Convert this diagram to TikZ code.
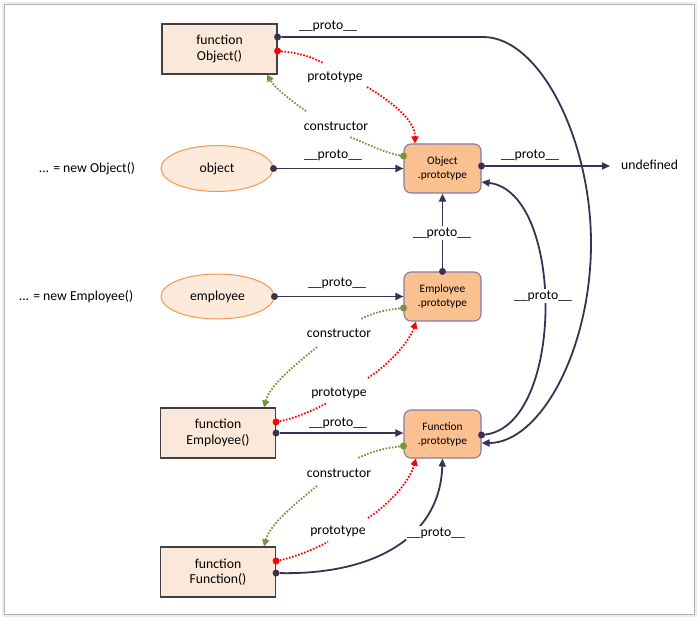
\documentclass[tikz,border=0pt]{standalone}
\usepackage{fontspec}
\setmainfont{Carlito}
\usetikzlibrary{arrows.meta,shapes.geometric,calc}
\definecolor{dk}{HTML}{3B3054}
\definecolor{fnfill}{HTML}{FCE8D9}
\definecolor{fnline}{HTML}{404040}
\definecolor{prfill}{HTML}{FAC090}
\definecolor{prline}{HTML}{8A7AA0}
\definecolor{elfill}{HTML}{FDEADA}
\definecolor{elline}{HTML}{F79646}
\definecolor{rd}{HTML}{FF0000}
\definecolor{gr}{HTML}{77933C}
\begin{document}
\begin{tikzpicture}[x=1pt,y=-1pt,
  fnbox/.style={draw=fnline,fill=fnfill,line width=1.1pt,minimum width=115pt,minimum height=50pt,align=center,font=\fontsize{13.7}{15.5}\selectfont,inner sep=0pt},
  prbox/.style={draw=prline,fill=prfill,line width=1.1pt,rounded corners=7pt,minimum width=77pt,minimum height=49pt,align=center,font=\fontsize{11.4}{14}\selectfont,inner sep=0pt},
  elnode/.style={ellipse,draw=elline,fill=elfill,line width=1pt,minimum width=112pt,minimum height=46pt,font=\fontsize{13.7}{15.5}\selectfont,inner sep=0pt},
  lbl/.style={font=\fontsize{13.7}{15.5}\selectfont,inner sep=1.5pt},
  wlbl/.style={lbl,fill=white},
  pdot/.style={circle,fill=dk,inner sep=0pt,minimum size=7pt},
  rdot/.style={circle,fill=rd,inner sep=0pt,minimum size=7pt},
  gdot/.style={circle,fill=gr,inner sep=0pt,minimum size=7pt},
  proto/.style={draw=dk,line width=1.8pt,-{Triangle[length=8pt,width=7pt]}},
  protoplain/.style={draw=dk,line width=1.8pt},
  redlink/.style={draw=rd,line width=1.8pt,dash pattern=on 1.6pt off 1.6pt,-{Triangle[length=7pt,width=7pt]}},
  greenlink/.style={draw=gr,line width=1.8pt,dash pattern=on 1.6pt off 1.6pt,-{Triangle[length=7pt,width=7pt]}}
]
\useasboundingbox (0,0) rectangle (700,620);
% frame
\draw[black!7,line width=5pt] (4.5,4.5) rectangle (694.5,614.5);
\fill[white] (4.5,4.5) rectangle (694.5,614.5);
\draw[black!30,line width=1.2pt] (4.5,4.5) rectangle (694.5,614.5);

% nodes
\node[fnbox] (fobj) at (219.5,49) {function\\Object()};
\node[fnbox] (femp) at (218,433) {function\\Employee()};
\node[fnbox] (ffun) at (218,572) {function\\Function()};
\node[prbox] (objp) at (442.5,168.5) {Object\\.prototype};
\node[prbox] (empp) at (442.5,296.5) {Employee\\.prototype};
\node[prbox,minimum height=48pt] (funp) at (442.5,434) {Function\\.prototype};
\node[elnode] (obj) at (217,168.5) {object};
\node[elnode,minimum width=113pt,minimum height=45pt] (emp) at (217.5,296.5) {employee};
\node[lbl,anchor=west,inner sep=0pt] (undef) at (621,165) {undefined};
\node[lbl] (newobj) at (87,169) {... = new Object()};
\node[lbl] (newemp) at (76,297) {... = new Employee()};

% dots
\node[pdot] (d0) at ([yshift=12pt]fobj.east) {};
\node[pdot] (d1) at (obj.east) {};
\node[pdot] (d2) at ([yshift=2.5pt]objp.east) {};
\node[pdot] (d3) at (empp.north) {};
\node[pdot] (d4) at (emp.east) {};
\node[pdot] (d5) at (femp.east) {};
\node[pdot] (d6) at ([yshift=-1pt]funp.east) {};
\node[pdot] (d7) at ([yshift=-1pt]ffun.east) {};
\node[rdot] (r0) at ([yshift=-2pt]fobj.east) {};
\node[rdot] (r1) at ([yshift=11pt]femp.east) {};
\node[rdot] (r2) at ([yshift=11pt]ffun.east) {};
\node[gdot] (g0) at ([yshift=12.5pt]objp.west) {};
\node[gdot] (g1) at ([yshift=-11.5pt]empp.west) {};
\node[gdot] (g2) at ([yshift=-12pt]funp.west) {};

% solid __proto__ links
\draw[proto] (d0) -- (483,37) .. controls (540,37) and (591,140) .. (591,243)
   .. controls (591,350) and (540,443) .. ([yshift=-9pt]funp.east);
\draw[proto,shorten >=11pt] (d2) -- (d2 -| undef.west);
\draw[proto] (d1) -- (d1 -| objp.west);
\draw[proto] (d3) -- (objp.south);
\draw[proto] (d4) -- (d4 -| empp.west);
\draw[proto] (d5) -- (d5 -| funp.west);
\draw[proto] (d6) .. controls (565,425) and (565,192) .. ([yshift=-13.5pt]objp.east);
\draw[proto] (d7) .. controls (370,575) and (440,540) .. (funp.south);

% labels of solid links
\node[lbl] (lp0) at (328,26) {\_\_proto\_\_};
\node[lbl] (lp1) at (333,155) {\_\_proto\_\_};
\node[lbl] (lp2) at (530,155) {\_\_proto\_\_};
\node[wlbl] (lp3) at (442,233) {\_\_proto\_\_};
\node[lbl] (lp4) at (337,283) {\_\_proto\_\_};
\node[lbl] (lp5) at (338,423) {\_\_proto\_\_};
\node[wlbl] (lp6) at (543,296) {\_\_proto\_\_};
\node[wlbl] (lp7) at (436,533) {\_\_proto\_\_};

% labels of dotted links
\node[lbl] (pA) at (335,77) {prototype};
\node[lbl] (cA) at (336,126) {constructor};
\node[lbl] (cB) at (339,333) {constructor};
\node[lbl] (pB) at (339,393) {prototype};
\node[lbl] (cC) at (339,473) {constructor};
\node[lbl] (pC) at (338,531) {prototype};

% gap points of dotted links
\coordinate (rA1) at (323,63);  \coordinate (rA2) at (367,87);
\coordinate (gA1) at (350,137); \coordinate (gA2) at (306,111);
\coordinate (gB1) at (361,319); \coordinate (gB2) at (317,347);
\coordinate (rB1) at (327,403); \coordinate (rB2) at (368,378);
\coordinate (gC1) at (358,458); \coordinate (gC2) at (317,486);
\coordinate (rC1) at (328,542); \coordinate (rC2) at (368,518);

% dotted links
\draw[redlink] (r0) .. controls (300,53) and (312,57) .. (rA1)
   (rA2) .. controls (392,102) and (415,120) .. ([xshift=-27.5pt]objp.north);
\draw[greenlink] (g0) .. controls (385,153) and (365,143) .. (gA1)
   (gA2) .. controls (290,100) and (275,88) .. ([xshift=47.5pt]fobj.south);
\draw[greenlink] (g1) .. controls (385,310) and (372,313) .. (gB1)
   (gB2) .. controls (295,365) and (270,385) .. ([xshift=46pt]femp.north);
\draw[redlink] (r1) .. controls (295,418) and (312,411) .. (rB1)
   (rB2) .. controls (392,362) and (410,340) .. ([xshift=-26.5pt]empp.south);
\draw[greenlink] (g2) .. controls (385,448) and (370,452) .. (gC1)
   (gC2) .. controls (295,504) and (270,524) .. ([xshift=46pt]ffun.north);
\draw[redlink] (r2) .. controls (295,557) and (312,550) .. (rC1)
   (rC2) .. controls (392,502) and (410,480) .. ([xshift=-26.5pt]funp.south);
\end{tikzpicture}
\end{document}
